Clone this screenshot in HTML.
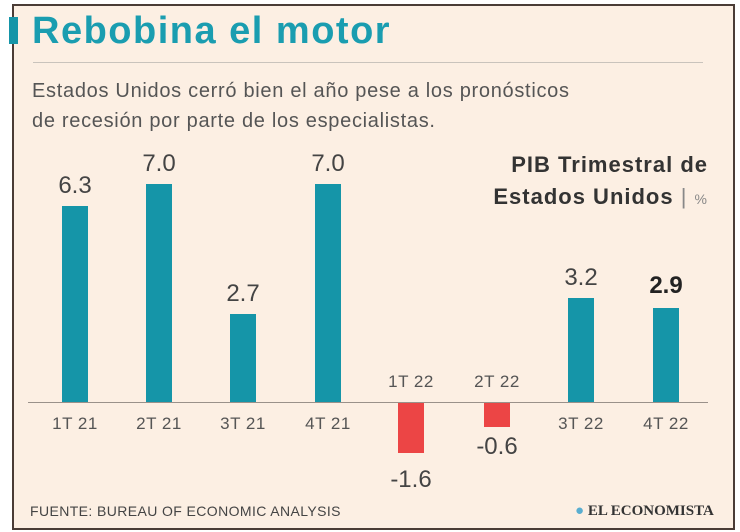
<!DOCTYPE html>
<html><head><meta charset="utf-8"><style>
body{margin:0;width:740px;height:532px;background:#fff;overflow:hidden;font-family:"Liberation Sans",sans-serif}
#f{position:absolute;left:12px;top:4px;width:719px;height:522px;border:2px solid #4a3c36;background:#fcefe3}
.a{position:absolute;white-space:nowrap}
.b{position:absolute;width:26px;background:#1595a8}
.r{background:#ec4545}
.v{position:absolute;width:80px;text-align:center;font-size:24px;color:#444}
.c{position:absolute;width:80px;text-align:center;font-size:17px;color:#555;letter-spacing:0.5px}
</style></head><body>
<div id="f"></div>
<div class="a" style="left:9px;top:17px;width:9px;height:27px;background:#1595a8"></div>
<div class="a" style="left:32px;top:10px;font-size:38px;font-weight:bold;color:#1a9db0;letter-spacing:1.5px">Rebobina el motor</div>
<div class="a" style="left:33px;top:62px;width:670px;height:1px;background:#c9c3bc"></div>
<div class="a" style="left:32px;top:76px;font-size:20px;color:#555;line-height:30px;letter-spacing:0.7px">Estados Unidos cerró bien el año pese a los pronósticos<br>de recesión por parte de los especialistas.</div>
<div class="a" style="right:32px;top:149px;font-size:22px;font-weight:bold;color:#333;text-align:right;line-height:32px;letter-spacing:1px">PIB Trimestral de<br>Estados Unidos <span style="font-weight:normal;color:#888">| <span style="font-size:14px">%</span></span></div>
<div class="a" style="left:28px;top:402px;width:680px;height:1px;background:#9a918a"></div>
<div class="b" style="left:62px;top:206px;height:196px"></div>
<div class="b" style="left:146px;top:184px;height:218px"></div>
<div class="b" style="left:230px;top:314px;height:88px"></div>
<div class="b" style="left:315px;top:184px;height:218px"></div>
<div class="b r" style="left:398px;top:403px;height:50px"></div>
<div class="b r" style="left:484px;top:403px;height:24px"></div>
<div class="b" style="left:568px;top:298px;height:104px"></div>
<div class="b" style="left:653px;top:308px;height:94px"></div>
<div class="v" style="left:35px;top:172px">6.3</div>
<div class="v" style="left:119px;top:150px">7.0</div>
<div class="v" style="left:203px;top:280px">2.7</div>
<div class="v" style="left:288px;top:150px">7.0</div>
<div class="v" style="left:371px;top:466px">-1.6</div>
<div class="v" style="left:457px;top:433px">-0.6</div>
<div class="v" style="left:541px;top:264px">3.2</div>
<div class="v" style="left:626px;top:272px;font-weight:bold;color:#222">2.9</div>
<div class="c" style="left:35px;top:414px">1T 21</div>
<div class="c" style="left:119px;top:414px">2T 21</div>
<div class="c" style="left:203px;top:414px">3T 21</div>
<div class="c" style="left:288px;top:414px">4T 21</div>
<div class="c" style="left:371px;top:372px">1T 22</div>
<div class="c" style="left:457px;top:372px">2T 22</div>
<div class="c" style="left:541px;top:414px">3T 22</div>
<div class="c" style="left:626px;top:414px">4T 22</div>
<div class="a" style="left:30px;top:503px;font-size:14px;color:#444;letter-spacing:0.4px">FUENTE: BUREAU OF ECONOMIC ANALYSIS</div>
<div class="a" style="left:575px;top:503px;font-family:'Liberation Serif',serif;font-weight:bold;font-size:15px;color:#333"><span style="color:#5aaed0">●</span> EL ECONOMISTA</div>
</body></html>
